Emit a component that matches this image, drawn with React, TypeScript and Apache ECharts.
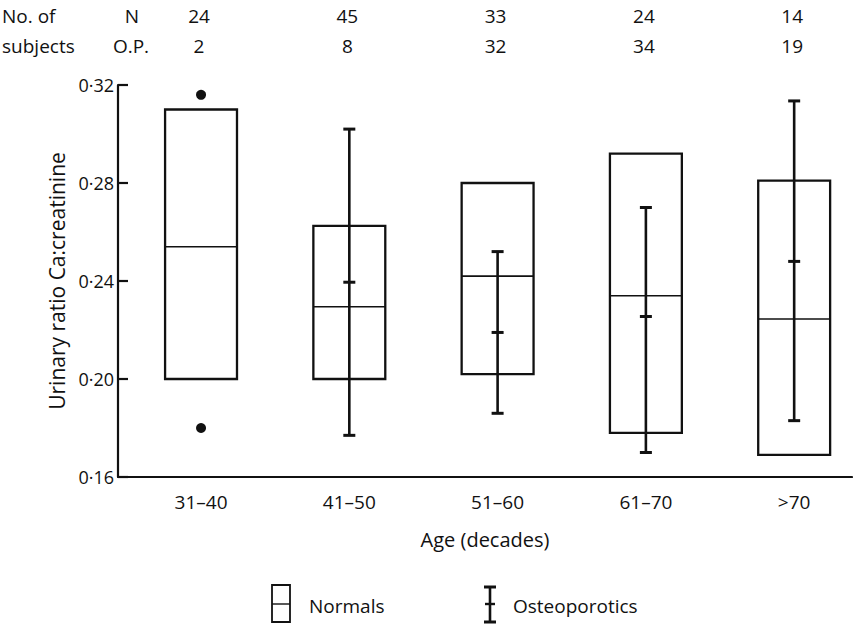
import React, { useEffect, useRef } from "react";
import * as echarts from "echarts";

const categories = ["31–40", "41–50", "51–60", "61–70", ">70"];
const countN = [24, 45, 33, 24, 14];
const countOP = [2, 8, 32, 34, 19];
const normalLow = [0.2, 0.2, 0.202, 0.178, 0.169];
const normalMean = [0.254, 0.2295, 0.242, 0.234, 0.2245];
const normalHigh = [0.31, 0.2625, 0.28, 0.292, 0.281];
const opLow: (number | null)[] = [null, 0.177, 0.186, 0.17, 0.183];
const opMean: (number | null)[] = [null, 0.2395, 0.219, 0.2255, 0.248];
const opHigh: (number | null)[] = [null, 0.302, 0.252, 0.27, 0.3135];
const opIndividual31to40 = [0.316, 0.18];
const yMin = 0.16;
const yMax = 0.32;
const yStep = 0.04;

const INK = "#111";
const FONT = "'Open Sans', Lato, sans-serif";

export default function App() {
  const ref = useRef<HTMLDivElement>(null);

  useEffect(() => {
    if (!ref.current) return;
    const chart = echarts.init(ref.current, undefined, { renderer: "svg" });

    const normalData = categories.map((_, i) => [i + 1, normalLow[i], normalMean[i], normalHigh[i]]);
    const opData = categories
      .map((_, i) => [i + 1, opLow[i], opMean[i], opHigh[i]])
      .filter((d) => d[1] != null);
    const countData = categories.map((_, i) => [i + 1, countN[i], countOP[i]]);

    const option: any = {
      animation: false,
      backgroundColor: "#fff",
      textStyle: { fontFamily: FONT, color: INK },
      grid: { left: 118, right: 1, top: 85, bottom: 148, containLabel: false, outerBoundsMode: "none" },
      xAxis: {
        type: "value",
        min: 0.44,
        max: 5.39,
        name: "Age (decades)",
        nameLocation: "middle",
        nameGap: 52,
        nameTextStyle: { fontSize: 20, color: INK, fontFamily: FONT },
        axisLine: { show: true, lineStyle: { color: INK, width: 2.2 } },
        axisTick: { show: false },
        splitLine: { show: false },
        axisLabel: {
          customValues: [1, 2, 3, 4, 5],
          formatter: (v: number) => categories[Math.round(v) - 1] ?? "",
          fontSize: 19,
          color: INK,
          fontFamily: FONT,
          margin: 15,
        },
      },
      yAxis: {
        type: "value",
        min: yMin,
        max: yMax,
        interval: yStep,
        name: "Urinary ratio Ca:creatinine",
        nameLocation: "middle",
        nameGap: 50,
        nameTextStyle: { fontSize: 21, color: INK, fontFamily: FONT },
        axisLine: { show: true, lineStyle: { color: INK, width: 2.2 } },
        axisTick: { show: true, inside: true, length: 10, lineStyle: { color: INK, width: 2.2 } },
        splitLine: { show: false },
        axisLabel: {
          formatter: (v: number) => v.toFixed(2).replace(".", "·"),
          fontSize: 18,
          color: INK,
          fontFamily: FONT,
          margin: 4,
        },
      },
      series: [
        {
          name: "Normals",
          type: "custom",
          data: normalData,
          encode: { x: 0, y: [1, 2, 3] },
          renderItem: (params: any, api: any) => {
            const x = api.value(0);
            const lo = api.coord([x, api.value(1)]);
            const me = api.coord([x, api.value(2)]);
            const hi = api.coord([x, api.value(3)]);
            const w = api.size([1, 0])[0] * 0.485;
            return {
              type: "group",
              children: [
                {
                  type: "rect",
                  shape: { x: lo[0] - w / 2, y: hi[1], width: w, height: lo[1] - hi[1] },
                  style: { fill: "none", stroke: INK, lineWidth: 2.3 },
                },
                {
                  type: "line",
                  shape: { x1: lo[0] - w / 2, y1: me[1], x2: lo[0] + w / 2, y2: me[1] },
                  style: { stroke: INK, lineWidth: 1.6 },
                },
              ],
            };
          },
        },
        {
          name: "Osteoporotics",
          type: "custom",
          data: opData,
          encode: { x: 0, y: [1, 2, 3] },
          renderItem: (params: any, api: any) => {
            const x = api.value(0);
            const lo = api.coord([x, api.value(1)]);
            const me = api.coord([x, api.value(2)]);
            const hi = api.coord([x, api.value(3)]);
            const c = 6;
            const st = { stroke: INK, lineWidth: 2.6 };
            return {
              type: "group",
              children: [
                { type: "line", shape: { x1: lo[0], y1: lo[1], x2: hi[0], y2: hi[1] }, style: st },
                { type: "line", shape: { x1: hi[0] - c, y1: hi[1], x2: hi[0] + c, y2: hi[1] }, style: { stroke: INK, lineWidth: 3 } },
                { type: "line", shape: { x1: lo[0] - c, y1: lo[1], x2: lo[0] + c, y2: lo[1] }, style: { stroke: INK, lineWidth: 3 } },
                { type: "line", shape: { x1: me[0] - c, y1: me[1], x2: me[0] + c, y2: me[1] }, style: { stroke: INK, lineWidth: 3 } },
              ],
            };
          },
        },
        {
          name: "Osteoporotics (individual)",
          type: "scatter",
          data: opIndividual31to40.map((v) => [1, v]),
          symbol: "circle",
          symbolSize: 10,
          itemStyle: { color: INK, opacity: 1 },
        },
        {
          name: "counts",
          type: "custom",
          data: countData,
          encode: { x: 0, y: -1 },
          clip: false,
          renderItem: (params: any, api: any) => {
            const x = api.value(0);
            const px = api.coord([x, yMin])[0] - 2;
            const ts = { fontSize: 19, fontFamily: FONT, fill: INK, align: "center", verticalAlign: "middle" };
            return {
              type: "group",
              children: [
                { type: "text", x: px, y: 16, style: { ...ts, text: String(api.value(1)) } },
                { type: "text", x: px, y: 46, style: { ...ts, text: String(api.value(2)) } },
              ],
            };
          },
        },
      ],
      graphic: [
        { type: "text", x: 2, y: 16, style: { text: "No. of", fontSize: 19, fontFamily: FONT, fill: INK, verticalAlign: "middle" } },
        { type: "text", x: 2, y: 46, style: { text: "subjects", fontSize: 19, fontFamily: FONT, fill: INK, verticalAlign: "middle" } },
        { type: "text", x: 132, y: 16, style: { text: "N", fontSize: 19, fontFamily: FONT, fill: INK, align: "center", verticalAlign: "middle" } },
        { type: "text", x: 131, y: 46, style: { text: "O.P.", fontSize: 19, fontFamily: FONT, fill: INK, align: "center", verticalAlign: "middle" } },
        // legend: Normals
        { type: "rect", shape: { x: 272, y: 585, width: 18, height: 37 }, style: { fill: "none", stroke: INK, lineWidth: 1.8 } },
        { type: "line", shape: { x1: 272, y1: 604, x2: 290, y2: 604 }, style: { stroke: INK, lineWidth: 1.4 } },
        { type: "text", x: 309, y: 606, style: { text: "Normals", fontSize: 19, fontFamily: FONT, fill: INK, verticalAlign: "middle" } },
        // legend: Osteoporotics
        { type: "line", shape: { x1: 490, y1: 587, x2: 490, y2: 622 }, style: { stroke: INK, lineWidth: 2.6 } },
        { type: "line", shape: { x1: 484, y1: 587, x2: 496, y2: 587 }, style: { stroke: INK, lineWidth: 3 } },
        { type: "line", shape: { x1: 484, y1: 622, x2: 496, y2: 622 }, style: { stroke: INK, lineWidth: 3 } },
        { type: "line", shape: { x1: 485, y1: 604, x2: 495, y2: 604 }, style: { stroke: INK, lineWidth: 2.4 } },
        { type: "text", x: 513, y: 606, style: { text: "Osteoporotics", fontSize: 19, fontFamily: FONT, fill: INK, verticalAlign: "middle" } },
      ],
    };

    chart.setOption(option);
    return () => chart.dispose();
  }, []);

  return (
    <div
      ref={ref}
      style={{ position: "absolute", left: 0, top: 0, width: 853, height: 625, background: "#fff" }}
    />
  );
}
